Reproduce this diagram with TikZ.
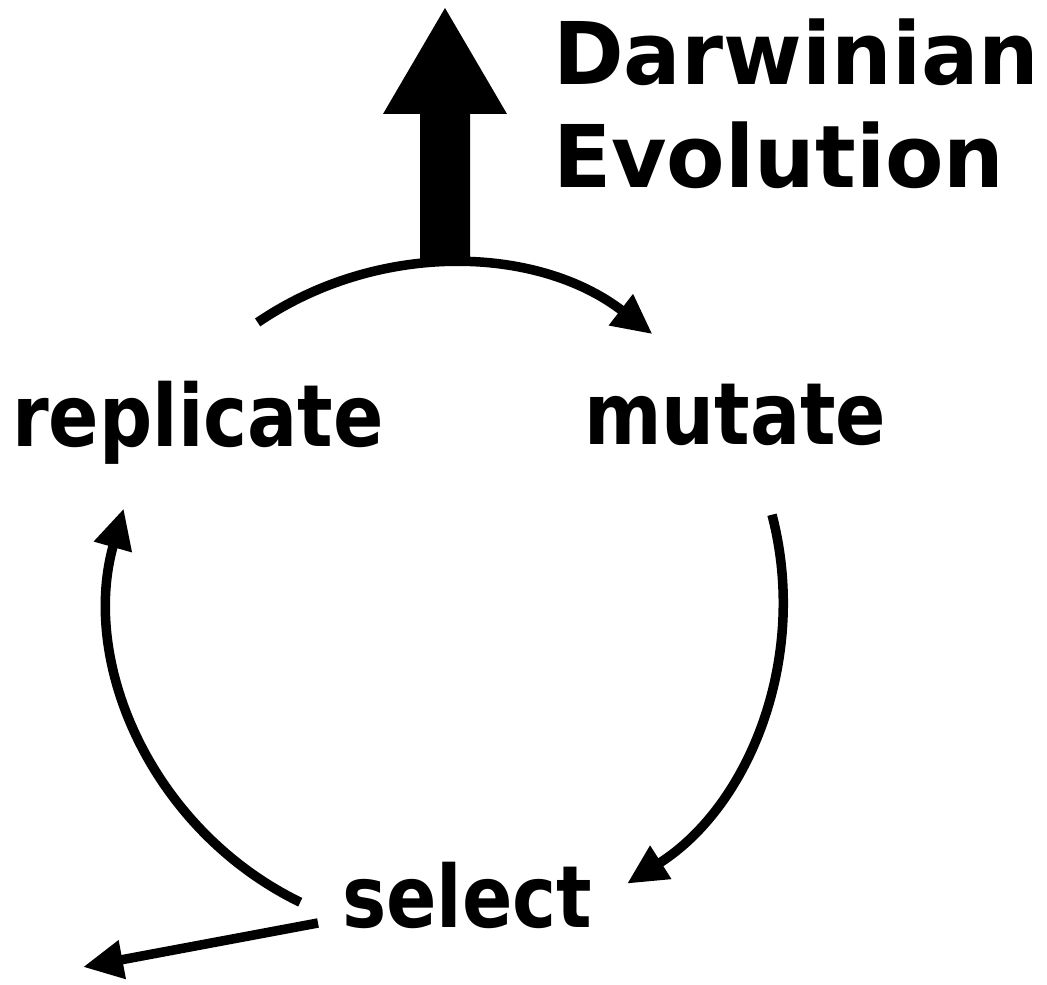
\documentclass[tikz,border=0pt]{standalone}
\usepackage{fontspec}
\setmainfont{DejaVu Sans}
\usetikzlibrary{arrows.meta}
\tikzset{
  cyc/.style={line width=9.5pt, -{Triangle[length=40pt,width=37pt]}},
  lbl/.style={anchor=base west, inner sep=0pt, xscale=0.865, font=\fontsize{86}{86}\selectfont\bfseries},
  ttl/.style={anchor=base west, inner sep=0pt, xscale=0.985, font=\fontsize{86.5}{86.5}\selectfont\bfseries}
}
\begin{document}
\begin{tikzpicture}[x=1pt,y=1pt]
\useasboundingbox (0,0) rectangle (1047,985);
\coordinate (C) at (447,385);
% big up arrow
\fill (420,720) -- (420,871) -- (383,871) -- (445,977) -- (507,871) -- (470,871) -- (470,720) -- cycle;
% labels
\node[ttl] (darw) at (553,900) {Darwinian};
\node[ttl] (evol) at (553,797) {Evolution};
\node[lbl] (rep) at (12,538) {replicate};
\node[lbl] (mut) at (584,540) {mutate};
\node[lbl] (sel) at (342,57) {select};
% arc endpoints
\path (C) ++(124.3:336) coordinate (ts);
\path (C) ++(14.7:336) coordinate (rs);
\path (C) ++(244.1:336) coordinate (ls);
\coordinate (bs) at (318,62);
\coordinate (be) at (83,18);
\draw[cyc] (ts) arc[start angle=124.3, end angle=52.3, radius=336];
\draw[cyc] (rs) arc[start angle=14.7, end angle=-57.6, radius=336];
\draw[cyc] (ls) arc[start angle=244.1, end angle=164.2, radius=336];
\draw[cyc] (bs) -- (be);
\end{tikzpicture}
\end{document}
